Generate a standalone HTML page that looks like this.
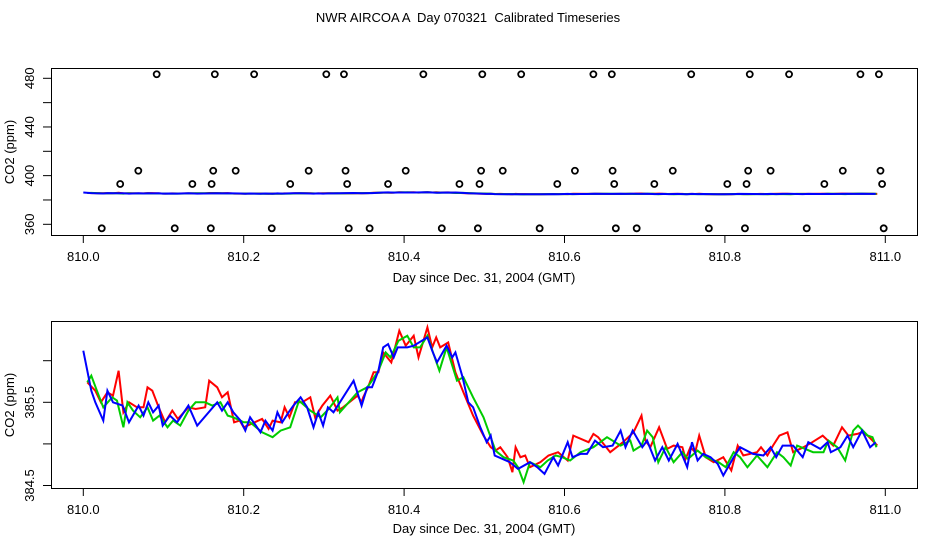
<!DOCTYPE html>
<html><head><meta charset="utf-8"><style>
html,body{margin:0;padding:0;background:#fff;}
svg{display:block;font-family:"Liberation Sans",sans-serif;}
</style></head><body>
<svg id="chart" width="936" height="540" viewBox="0 0 936 540">
<text x="468" y="22" font-size="13" text-anchor="middle" style="white-space:pre">NWR AIRCOA A  Day 070321  Calibrated Timeseries</text>
<rect x="51.5" y="68.5" width="866" height="167" fill="none" stroke="#000"/>
<rect x="51.5" y="321.5" width="866" height="167" fill="none" stroke="#000"/>
<text x="484" y="282" font-size="13" text-anchor="middle">Day since Dec. 31, 2004 (GMT)</text>
<text x="484" y="533" font-size="13" text-anchor="middle">Day since Dec. 31, 2004 (GMT)</text>
<text transform="translate(14,152) rotate(-90)" font-size="13" text-anchor="middle">CO2 (ppm)</text>
<text transform="translate(14,405) rotate(-90)" font-size="13" text-anchor="middle">CO2 (ppm)</text>
<g id="layer"></g>
</svg>
<script>
const flagHiDays=[.0915,.164,.213,.303,.325,.424,.4975,.546,.636,.659,.758,.831,.880,.969,.992];
const flagHiVal=483.3;
const flag404Days=[.0686,.162,.190,.281,.327,.402,.496,.523,.613,.660,.735,.829,.857,.947,.994];
const flag404Val=404.0;
const flag393Days=[.046,.136,.160,.258,.329,.380,.469,.494,.591,.662,.712,.803,.827,.924,.996];
const flag393Val=393.1;
const flagLoDays=[.023,.114,.159,.235,.331,.357,.447,.492,.569,.664,.690,.780,.825,.902,.998];
const flagLoVal=356.7;

const blueDays=[0,.010,.015,.025,.030,.037,.049,.057,.069,.075,.081,.087,.094,.099,.108,.117,.131,.142,.167,.173,.180,.187,.196,.202,.208,.221,.227,.236,.242,.248,.256,.262,.271,.279,.287,.293,.299,.305,.312,.320,.337,.347,.354,.360,.368,.374,.380,.387,.392,.404,.412,.429,.435,.441,.453,.460,.464,.473,.480,.486,.495,.503,.508,.513,.532,.542,.557,.566,.575,.586,.592,.604,.610,.620,.628,.638,.648,.660,.670,.676,.685,.697,.703,.713,.722,.730,.741,.753,.759,.766,.773,.782,.791,.798,.811,.819,.835,.848,.857,.864,.872,.885,.897,.904,.919,.928,.932,.944,.953,.960,.971,.981,.988];
const blueVals=[386.12,385.64,385.50,385.28,385.64,385.50,385.46,385.26,385.46,385.34,385.50,385.38,385.46,385.22,385.34,385.26,385.46,385.22,385.50,385.40,385.50,385.38,385.28,385.16,385.32,385.14,385.28,385.16,385.38,385.26,385.38,385.46,385.56,385.44,385.20,385.38,385.22,385.44,385.38,385.50,385.76,385.46,385.68,385.68,385.88,386.16,386.20,386.04,386.16,386.16,386.18,386.28,386.12,385.98,386.18,386.04,386.10,385.80,385.50,385.44,385.20,385.02,385.10,384.86,384.78,384.70,384.78,384.72,384.64,384.84,384.74,385.02,384.84,384.88,384.88,385.04,384.96,384.98,385.16,384.96,385.16,384.96,385.04,384.80,384.96,384.80,385.00,384.72,385.02,384.80,384.88,384.84,384.76,384.62,384.84,384.96,384.88,384.86,384.96,384.84,384.98,384.98,384.84,385.02,384.94,385.02,384.90,384.96,385.10,384.96,385.16,384.96,385.02];

const redDays=[.005,.015,.022,.030,.037,.044,.050,.057,.067,.075,.080,.086,.094,.102,.111,.118,.131,.140,.152,.157,.167,.173,.180,.188,.195,.200,.223,.231,.236,.246,.251,.257,.264,.273,.283,.289,.298,.308,.317,.324,.342,.347,.349,.355,.362,.368,.374,.384,.394,.402,.412,.418,.429,.435,.440,.445,.455,.464,.474,.486,.499,.508,.514,.520,.529,.535,.539,.545,.551,.557,.570,.580,.592,.604,.611,.630,.636,.642,.657,.673,.686,.696,.701,.707,.718,.728,.736,.747,.751,.757,.763,.768,.776,.786,.798,.808,.816,.823,.840,.845,.853,.860,.868,.878,.885,.898,.909,.922,.935,.946,.954,.965,.971,.978,.990];
const redVals=[385.74,385.64,385.50,385.62,385.58,385.88,385.38,385.50,385.44,385.44,385.68,385.64,385.44,385.26,385.40,385.30,385.44,385.42,385.44,385.76,385.68,385.56,385.62,385.26,385.28,385.20,385.30,385.18,385.28,385.26,385.44,385.32,385.50,385.50,385.56,385.32,385.46,385.58,385.40,385.44,385.58,385.50,385.56,385.68,385.86,385.86,386.10,385.98,386.36,386.18,386.30,386.04,386.40,386.16,386.28,386.16,386.22,385.86,385.62,385.34,385.10,384.96,384.92,384.96,384.84,384.66,384.96,384.84,384.86,384.72,384.78,384.86,384.90,384.80,385.10,385.02,385.12,385.08,384.90,385.02,385.14,385.34,385.04,384.96,385.20,384.94,384.98,384.96,384.82,384.96,384.90,385.10,384.84,384.78,384.84,384.68,384.98,384.86,384.90,384.96,384.86,384.98,385.10,385.14,384.90,384.96,385.02,385.10,384.98,385.20,385.10,385.12,385.14,385.10,384.98];

const greenDays=[.005,.010,.017,.025,.036,.042,.050,.055,.062,.071,.080,.087,.095,.105,.112,.121,.131,.140,.152,.161,.171,.180,.187,.200,.208,.223,.236,.246,.258,.269,.283,.296,.306,.317,.320,.342,.354,.360,.368,.377,.383,.393,.404,.412,.420,.429,.436,.444,.453,.466,.474,.486,.499,.508,.514,.524,.536,.542,.549,.557,.570,.579,.589,.597,.607,.620,.636,.653,.670,.682,.686,.696,.703,.710,.717,.726,.736,.747,.754,.766,.776,.792,.801,.811,.819,.828,.840,.853,.865,.873,.882,.890,.910,.923,.929,.940,.950,.960,.966,.978,.984,.989];
const greenVals=[385.74,385.82,385.64,385.44,385.56,385.52,385.20,385.50,385.40,385.32,385.44,385.28,385.34,385.20,385.28,385.22,385.40,385.50,385.50,385.46,385.50,385.34,385.32,385.26,385.26,385.14,385.08,385.16,385.20,385.52,385.40,385.32,385.42,385.56,385.38,385.62,385.68,385.76,385.88,386.10,386.04,386.24,386.30,386.16,386.16,386.30,386.10,385.88,386.16,385.76,385.80,385.56,385.32,385.08,384.92,384.84,384.80,384.72,384.54,384.78,384.72,384.80,384.86,384.84,384.80,384.90,384.96,385.08,384.98,385.04,384.92,384.98,385.16,385.08,384.78,384.96,384.78,384.90,384.82,384.92,384.84,384.78,384.72,384.90,384.84,384.72,384.86,384.72,384.90,384.84,384.74,384.98,384.90,384.90,385.04,384.96,384.80,385.16,385.22,385.10,385.08,384.96];

const topYTicks=[360,380,400,420,440,460,480];
const topYLabels=["360","","400","","440","","480"];
const botYTicks=[384.5,385.0,385.5,386.0];
const botYLabels=["384.5","","385.5",""];
const xTicks=[810.0,810.2,810.4,810.6,810.8,811.0];
const xLabels=["810.0","810.2","810.4","810.6","810.8","811.0"];

const NS="http://www.w3.org/2000/svg";
const layer=document.getElementById('layer');
function xScale(d){return 83.3+802*(d-810);}
function yTop(v){return 78.3+(480-v)*1.2167;}
function yBot(v){return 402.3-(v-385.5)*83.2;}
function mk(tag,attrs){const e=document.createElementNS(NS,tag);for(const k in attrs)e.setAttribute(k,attrs[k]);layer.appendChild(e);return e;}

[[235,'top'],[488,'bottom']].forEach(([by,nm])=>{
  xTicks.forEach((t,i)=>{
    const x=xScale(t);
    const tk=mk('line',{x1:x,x2:x,y1:by+0.5,y2:by+8,stroke:'#000'});
    
    
    const tl=mk('text',{x:x,y:by+26,'font-size':13,'text-anchor':'middle'});
    tl.textContent=xLabels[i];
    
    
  });
});
topYTicks.forEach((t,i)=>{
  const y=yTop(t);
  const tk=mk('line',{x1:43,x2:51.5,y1:y,y2:y,stroke:'#000'});
  
  
  if(topYLabels[i]){
    const tl=mk('text',{transform:`translate(34,${y}) rotate(-90)`,'font-size':13,'text-anchor':'middle'});
    tl.textContent=topYLabels[i];
    
    
  }
});
botYTicks.forEach((t,i)=>{
  const y=yBot(t);
  const tk=mk('line',{x1:43,x2:51.5,y1:y,y2:y,stroke:'#000'});
  
  
  if(botYLabels[i]){
    const tl=mk('text',{transform:`translate(34,${y}) rotate(-90)`,'font-size':13,'text-anchor':'middle'});
    tl.textContent=botYLabels[i];
    
    
  }
});

function path(days,vals,ys){
  return days.map((d,i)=>(i?'L':'M')+xScale(810+d).toFixed(1)+' '+ys(vals[i]).toFixed(1)).join(' ');
}
const series=[[redDays,redVals,'#ff0000','red'],[greenDays,greenVals,'#00cc00','green'],[blueDays,blueVals,'#0000ff','blue']];
series.forEach(([d,v,c,n])=>{
  const p1=mk('path',{d:path(d,v,yTop),fill:'none',stroke:c,'stroke-width':2});
  
  
});
series.forEach(([d,v,c,n])=>{
  const p2=mk('path',{d:path(d,v,yBot),fill:'none',stroke:c,'stroke-width':2});
  
  
});
[[flagHiDays,flagHiVal],[flag404Days,flag404Val],[flag393Days,flag393Val],[flagLoDays,flagLoVal]].forEach(([ds,v])=>{
  ds.forEach(d=>{
    const c=mk('circle',{cx:xScale(810+d),cy:yTop(v),r:3,fill:'none',stroke:'#000','stroke-width':1.8});
    
    
  });
});
</script>
</body></html>
